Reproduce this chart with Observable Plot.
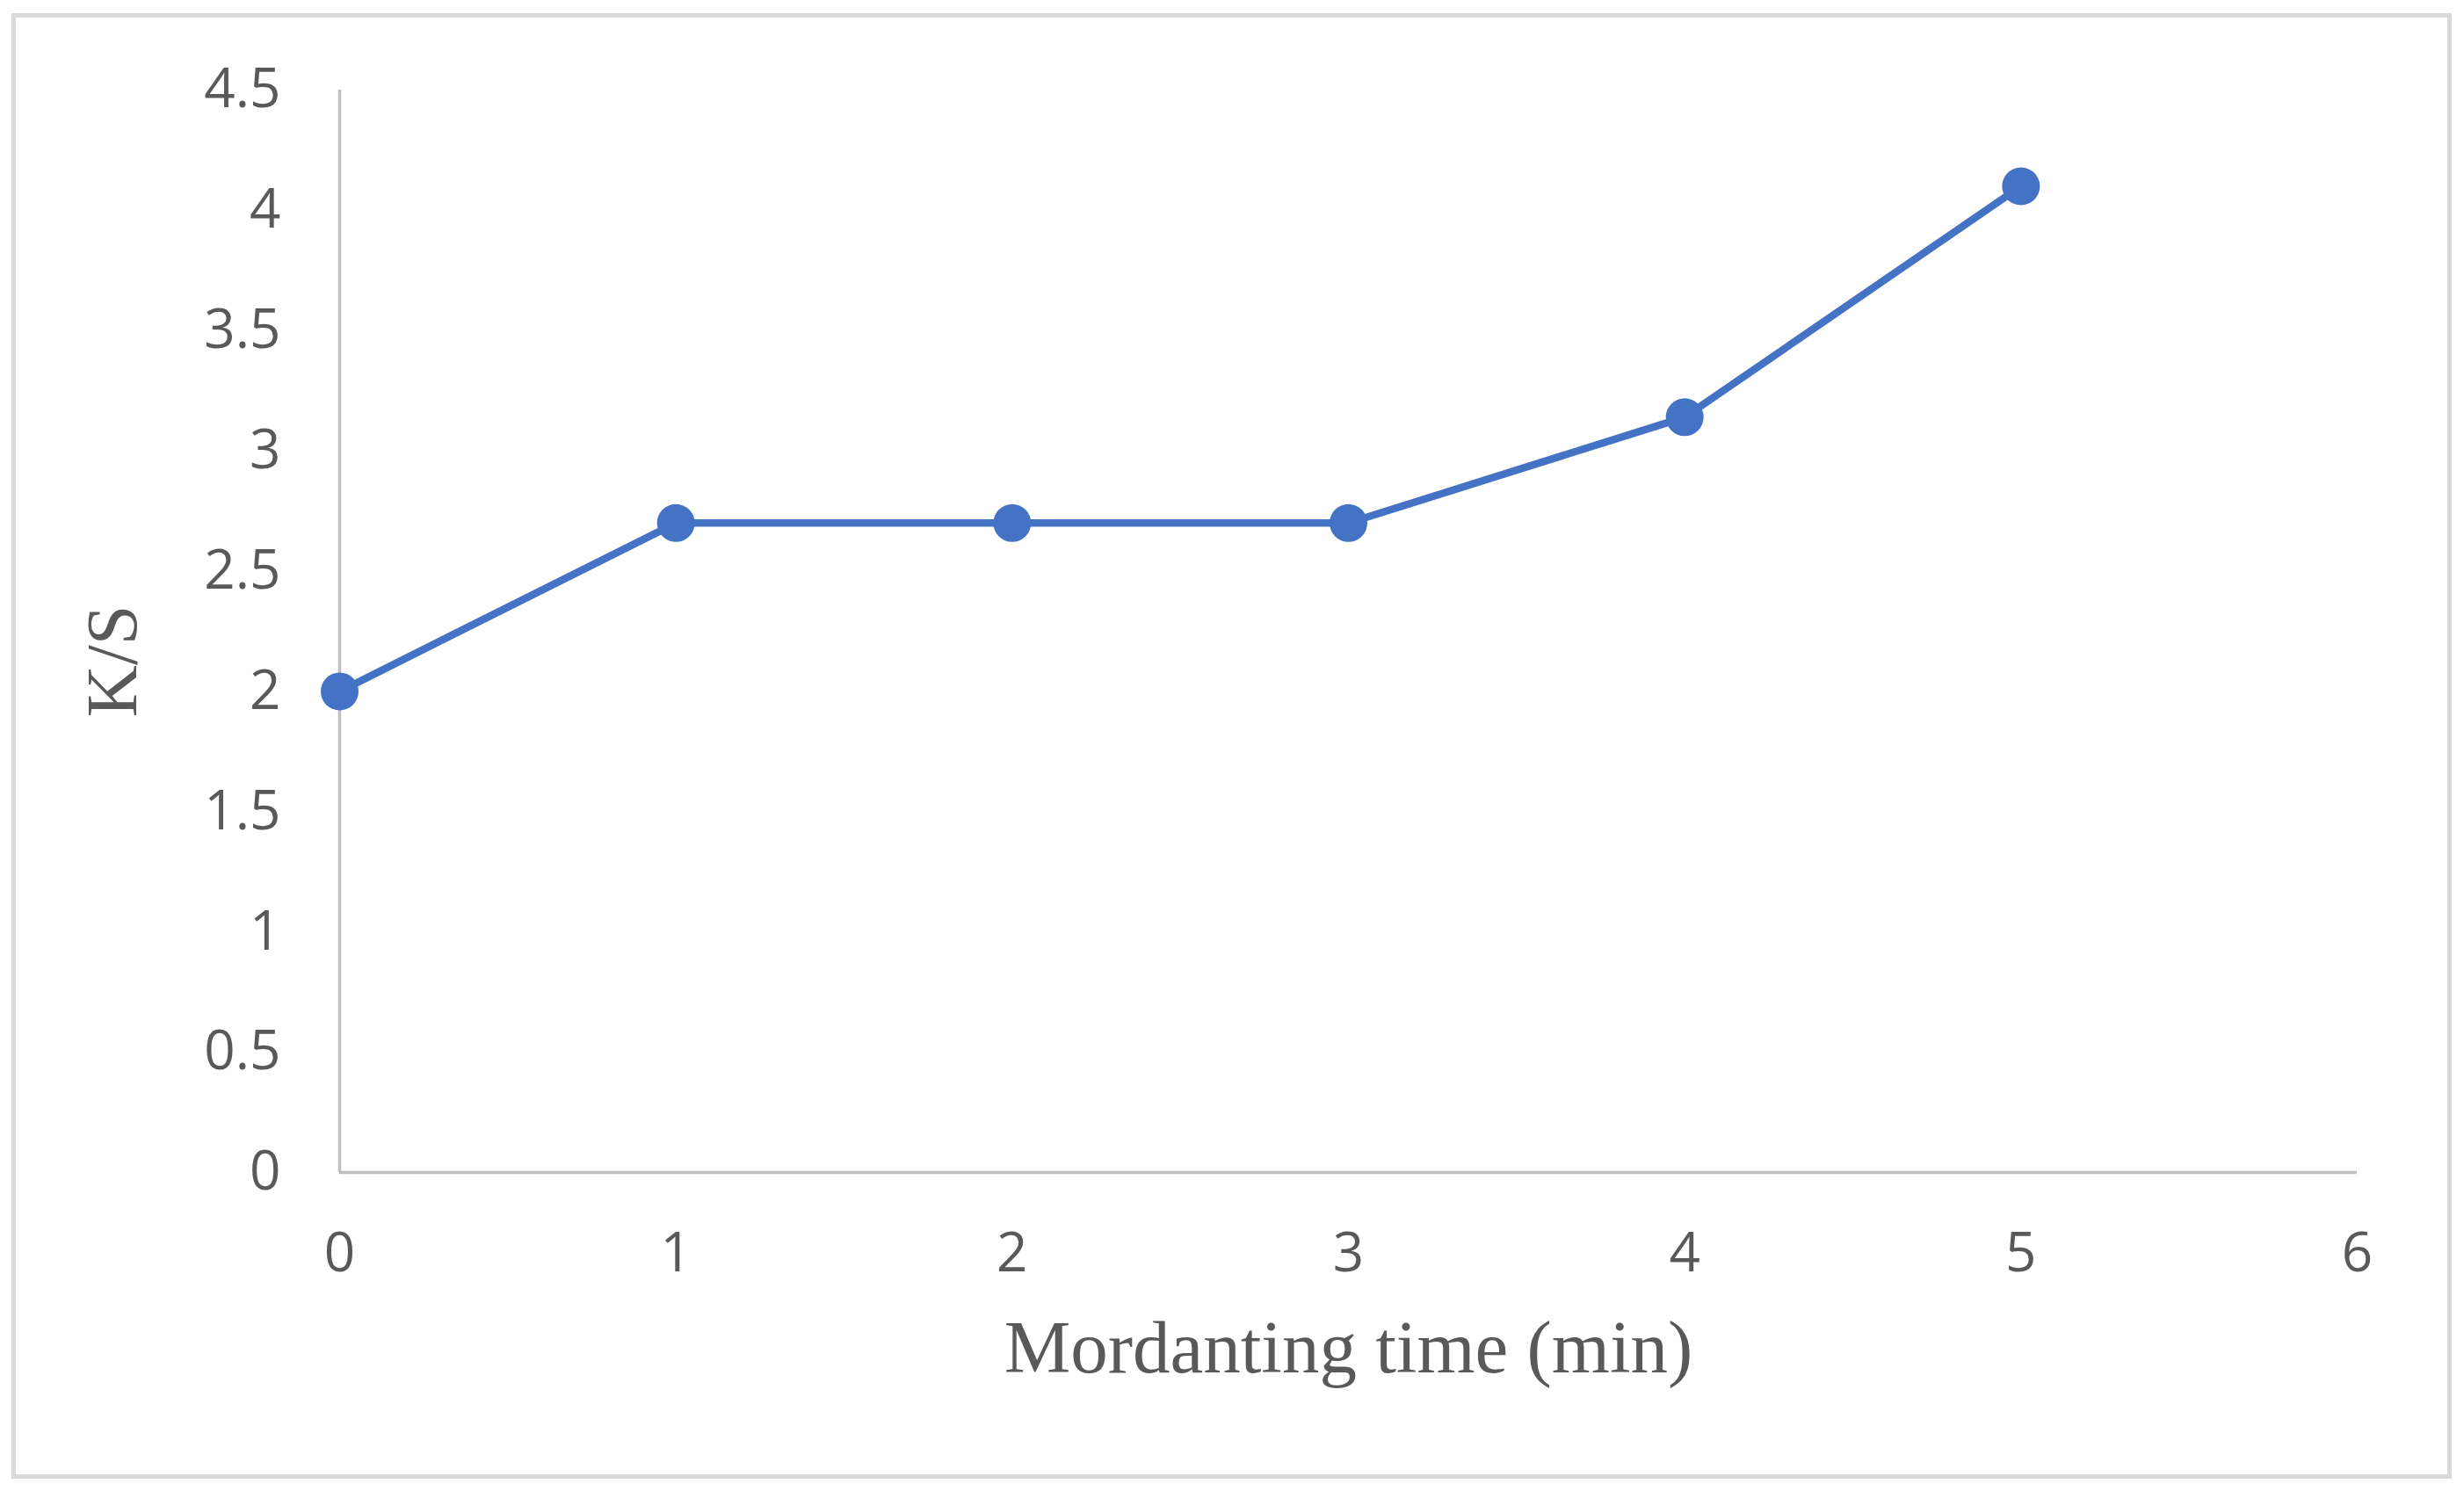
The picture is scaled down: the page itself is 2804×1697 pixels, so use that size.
<!DOCTYPE html>
<html><head><meta charset="utf-8">
<script src="https://cdn.jsdelivr.net/npm/d3@7"></script>
<script src="https://cdn.jsdelivr.net/npm/@observablehq/plot@0.6"></script>
<style>
html,body{margin:0;padding:0;background:#fff;}
#wrap{position:relative;width:2804px;height:1697px;overflow:hidden;}
#frame{position:absolute;left:13px;top:15px;width:2777px;height:1668px;border:5px solid #d9d9d9;box-sizing:border-box;pointer-events:none;}
</style></head><body><div id="wrap"><div id="chart"></div><div id="frame"></div></div>
<script>
const times = [0, 1, 2, 3, 4, 5];
const ks = [2.0, 2.7, 2.7, 2.7, 3.14, 4.1];
const xTicks = [0, 1, 2, 3, 4, 5, 6];
const yTicks = [0, 0.5, 1, 1.5, 2, 2.5, 3, 3.5, 4, 4.5];
const xTitle = "Mordanting time (min)";
const yTitle = "K/S";

const data = times.map((t, i) => ({t, v: ks[i]}));
const serif = "'Liberation Serif', 'Times New Roman', serif";
const chart = Plot.plot({
  width: 2804, height: 1697,
  marginLeft: 386, marginRight: 122, marginTop: 102, marginBottom: 363,
  style: {background: "white", fontFamily: "'Open Sans', sans-serif", color: "#595959"},
  x: {domain: [0, 6]},
  y: {domain: [0, 4.5]},
  marks: [
    Plot.ruleY([0], {stroke: "#bfbfbf", strokeWidth: 3.5}),
    Plot.ruleX([0], {stroke: "#bfbfbf", strokeWidth: 3.5}),
    Plot.axisX(xTicks, {tickSize: 0, tickPadding: 68, fontSize: 62, label: null, tickFormat: d => String(d)}),
    Plot.axisY(yTicks, {tickSize: 0, tickPadding: 67, fontSize: 62, label: null, tickFormat: d => String(d)}),
    Plot.line(data, {x: "t", y: "v", stroke: "#4472C4", strokeWidth: 8.5}),
    Plot.dot(data, {x: "t", y: "v", r: 21.5, fill: "#4472C4"}),
    Plot.text([xTitle], {frameAnchor: "bottom", dy: 227, fontSize: 85, fontFamily: serif, fill: "#595959"}),
    Plot.text([yTitle], {frameAnchor: "left", textAnchor: "middle", dx: -258, dy: 34, rotate: -90, fontSize: 82, fontFamily: serif, fill: "#595959"})
  ]
});
document.getElementById("chart").appendChild(chart);
</script>
</body></html>
